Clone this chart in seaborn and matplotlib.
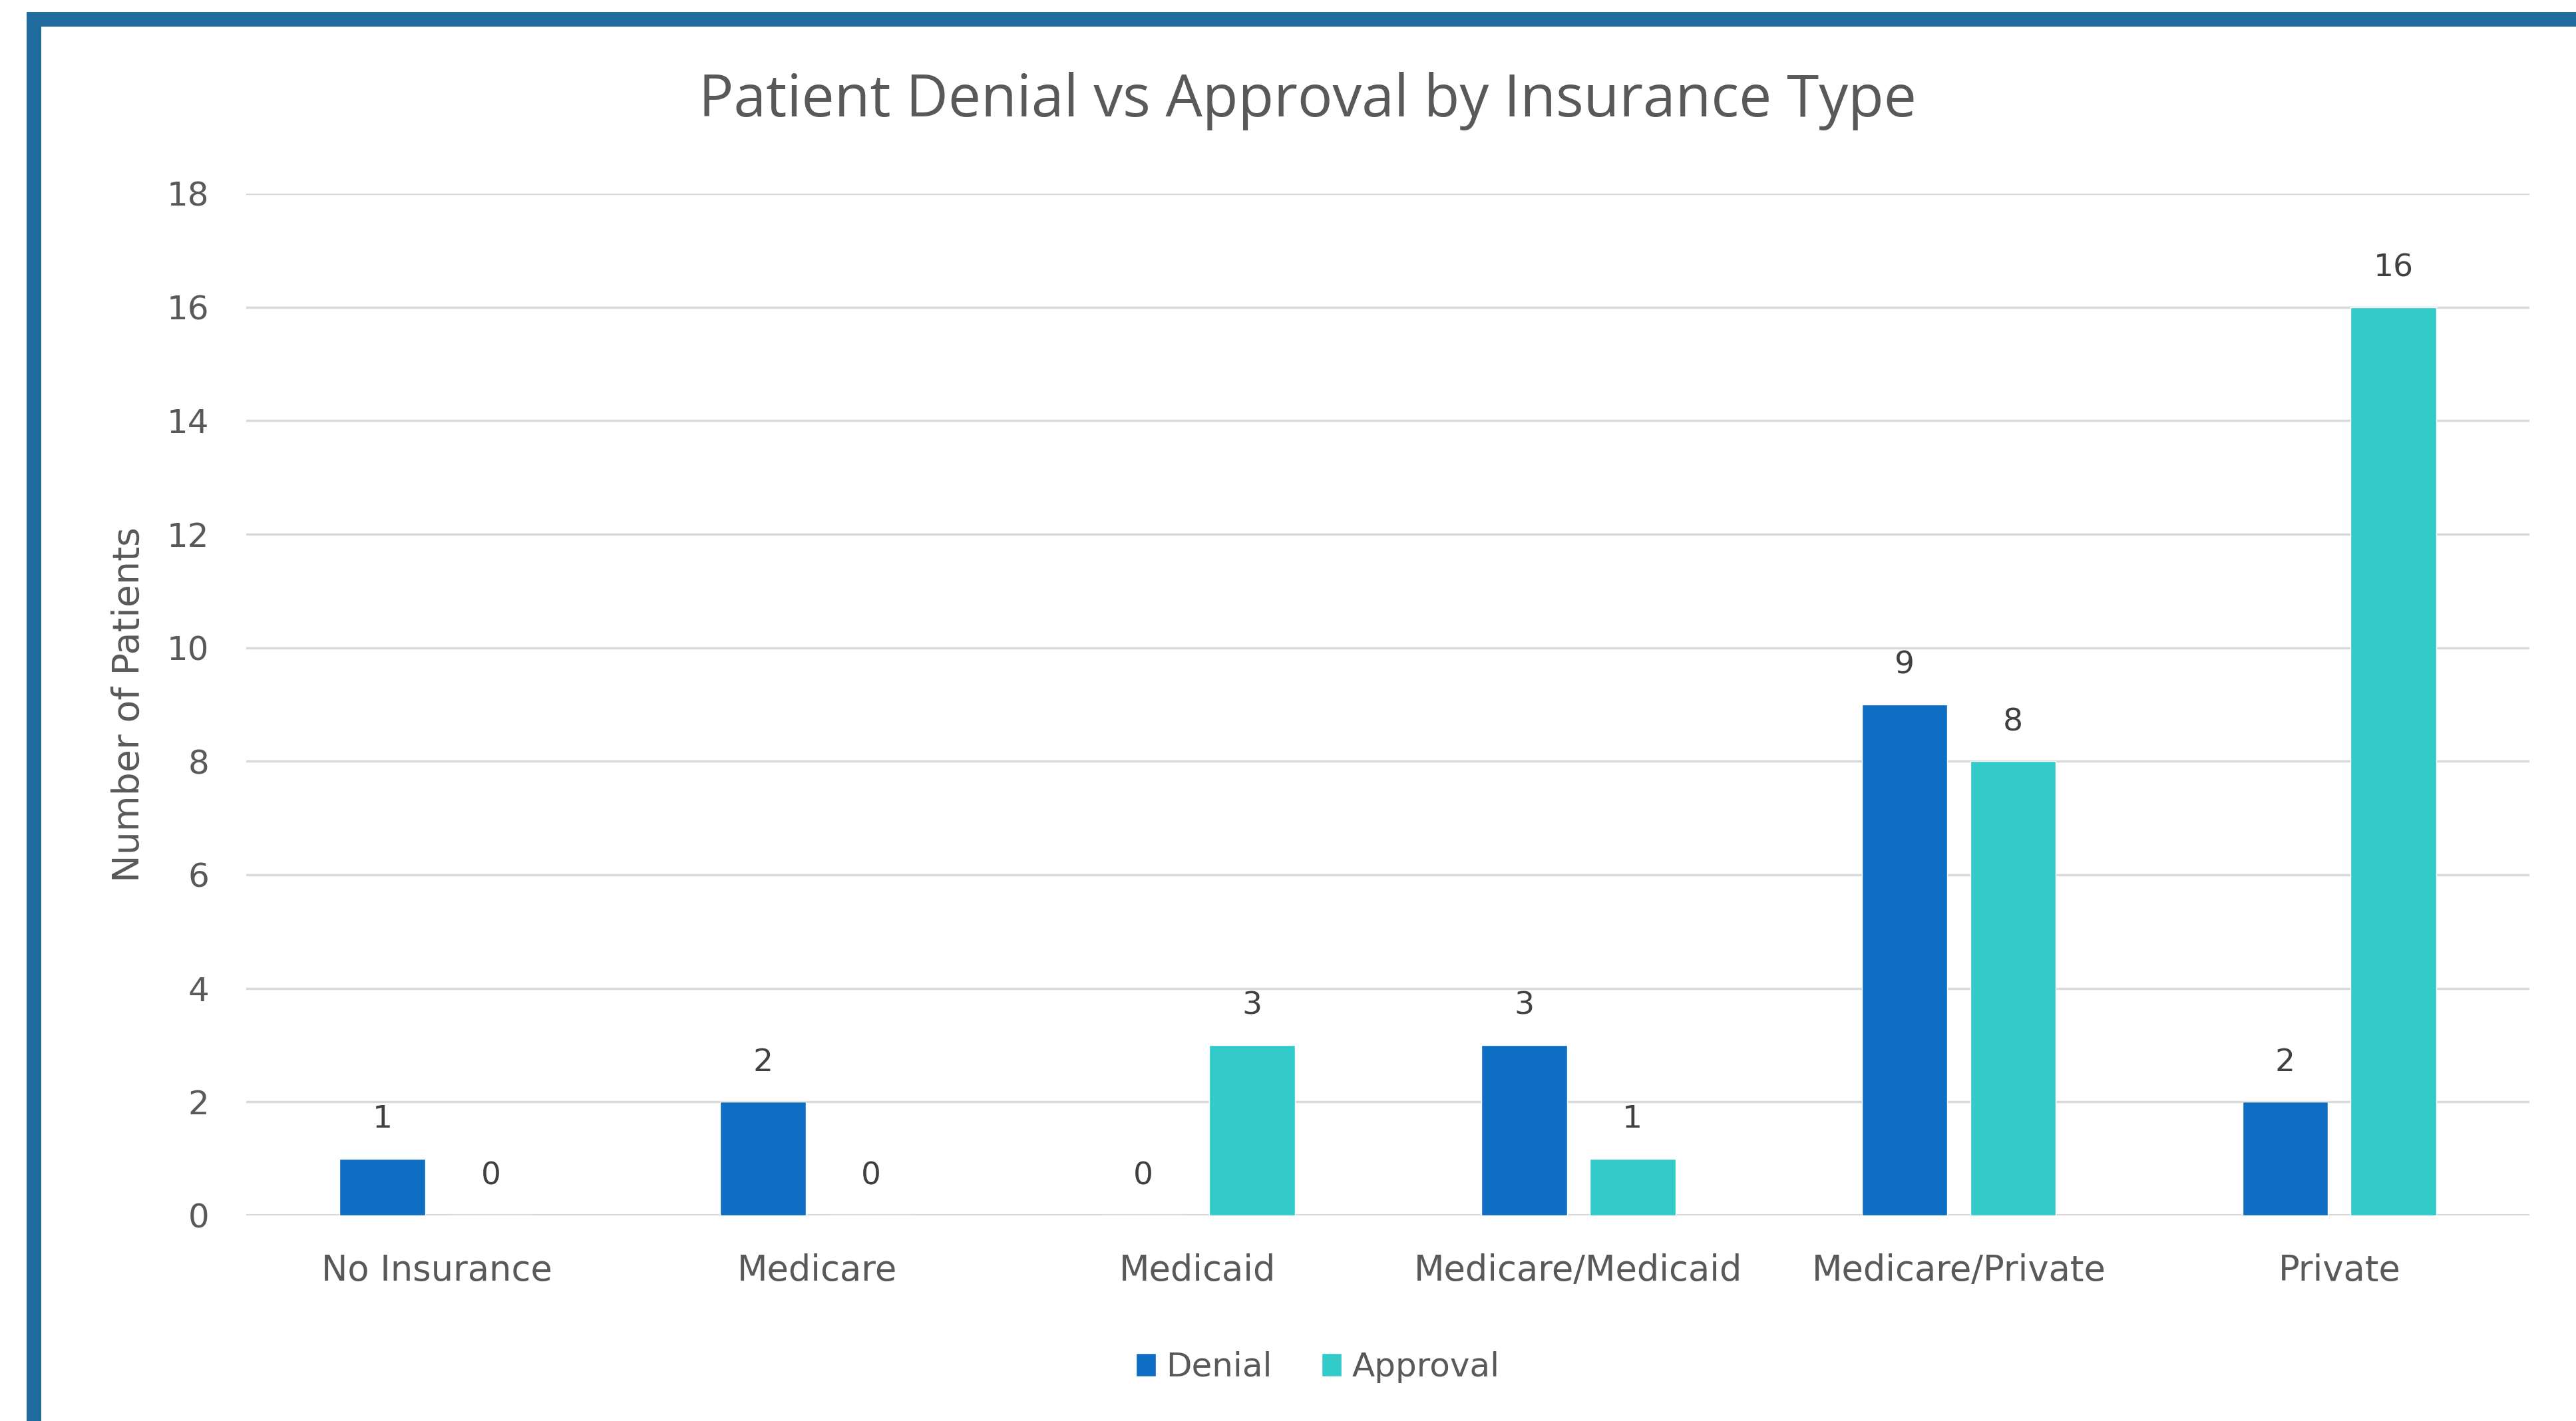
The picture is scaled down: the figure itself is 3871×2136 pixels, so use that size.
import pandas as pd
import matplotlib.pyplot as plt
import seaborn as sns
from matplotlib.patches import Rectangle

# data
insurance_types = ['No Insurance', 'Medicare', 'Medicaid', 'Medicare/Medicaid',
                   'Medicare/Private', 'Private']
denial = [1, 2, 0, 3, 9, 2]
approval = [0, 0, 3, 1, 8, 16]
y_ticks = [0, 2, 4, 6, 8, 10, 12, 14, 16, 18]

df = pd.DataFrame({
    'Insurance': insurance_types * 2,
    'Status': ['Denial'] * len(denial) + ['Approval'] * len(approval),
    'Patients': denial + approval,
})

sns.set_theme(style='white')
plt.rcParams['font.family'] = ['DejaVu Sans']

text_col = '#595959'
palette = {'Denial': '#0E6EC4', 'Approval': '#33CACA'}

fig = plt.figure(figsize=(38.71, 21.36), dpi=100)
ax = fig.add_axes([0.0956, 0.1447, 0.8864, 0.7191])

sns.barplot(data=df, x='Insurance', y='Patients', hue='Status', order=insurance_types,
            hue_order=['Denial', 'Approval'], palette=palette, width=0.57, gap=0.21,
            saturation=1, ax=ax, zorder=3)

for cont in ax.containers:
    ax.bar_label(cont, labels=[f'{int(v)}' for v in cont.datavalues], padding=26,
                 fontsize=34, color='#404040')

ax.set_ylim(0, 18)
ax.set_xlim(-0.5, len(insurance_types) - 0.5)
ax.set_yticks(y_ticks)
ax.yaxis.grid(True, color='#D9D9D9', linewidth=2.5, zorder=0)
ax.set_axisbelow(True)
for s in ['top', 'right', 'left', 'bottom']:
    ax.spines[s].set_visible(False)
ax.axhline(0, color='#D9D9D9', linewidth=3, zorder=2)
ax.tick_params(axis='both', length=0, labelcolor=text_col)
ax.tick_params(axis='x', pad=41, labelsize=38)
ax.tick_params(axis='y', pad=40, labelsize=36)
ax.set_xlabel('')
ax.set_ylabel('Number of Patients', fontsize=40, color=text_col, labelpad=22)
ax.get_legend().remove()

# title is centred on the whole chart, not on the plot area
fig.text(0.5077, 0.929, 'Patient Denial vs Approval by Insurance Type', fontsize=63,
         color=text_col, ha='center', va='center', family='Open Sans')

handles, labels = ax.get_legend_handles_labels()
fig.legend(handles, labels, loc='center', bbox_to_anchor=(0.5115, 0.038), ncol=2,
           frameon=False, fontsize=36, labelcolor=text_col, handlelength=0.6,
           handleheight=0.7, handletextpad=0.3, columnspacing=1.5)

# blue frame around the chart (right/bottom edges fall outside the picture)
frame_col = '#1F6B9E'
fig.add_artist(Rectangle((40 / 3871, 1 - 40 / 2136), 1, 22 / 2136,
                         transform=fig.transFigure, color=frame_col, lw=0))
fig.add_artist(Rectangle((40 / 3871, 0), 22 / 3871, 1 - 18 / 2136,
                         transform=fig.transFigure, color=frame_col, lw=0))

fig.savefig('out.png', dpi=100, facecolor='white')
